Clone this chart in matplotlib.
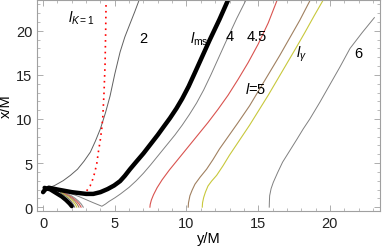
import matplotlib
matplotlib.use('Agg')
import matplotlib.pyplot as plt
from matplotlib.ticker import MultipleLocator

plt.rcParams['font.family'] = ['Liberation Sans', 'DejaVu Sans']
plt.rcParams['mathtext.fontset'] = 'custom'
plt.rcParams['mathtext.rm'] = 'Liberation Sans'
plt.rcParams['mathtext.it'] = 'Liberation Sans:italic'

# trajectories: horizontal = y/M, vertical = x/M
kerr_y = [3.04, 3.15, 3.28, 3.45, 3.6, 3.75, 3.85, 3.98, 4.09, 4.16, 4.25, 4.32, 4.36, 4.39, 4.42]
kerr_x = [1.85, 2.1, 2.4, 3.1, 3.9, 5.0, 6.2, 7.5, 8.9, 10.1, 13.0, 16.1, 19.5, 22.9, 23.5]

l2_y = [0.4, 0.8, 1.4, 1.9, 2.4, 2.85, 3.3, 3.65, 4.0, 4.35, 4.67, 5.0, 5.37, 5.7, 6.06, 6.4, 6.7]
l2_x = [2.2, 2.45, 3.0, 3.6, 4.3, 5.2, 6.25, 7.5, 8.9, 10.7, 12.6, 15.1, 17.6, 19.3, 20.8, 22.2, 23.5]

lms_y = [0.0, 0.15, 0.4, 1.0, 2.0, 3.0, 3.5, 4.0, 4.5, 4.95, 5.37, 5.7, 6.06, 6.5, 7.0, 7.5,
         8.0, 8.4, 8.85, 9.3, 9.7, 10.15, 10.6, 11.1, 11.6, 12.3, 12.9]
lms_x = [1.7, 2.0, 2.2, 2.0, 1.7, 1.5, 1.5, 1.7, 2.05, 2.45, 2.95, 3.55, 4.3, 5.15, 6.1, 7.15,
         8.2, 9.1, 10.1, 11.2, 12.3, 13.7, 15.3, 17.1, 18.9, 21.3, 23.5]
lms_in_y = [0.1, 0.5, 0.9, 1.3, 1.6, 1.85, 2.0]
lms_in_x = [2.2, 2.0, 1.6, 1.2, 0.8, 0.4, 0.1]

l4_y = [0.5, 1.5, 2.5, 3.5, 4.1, 4.35, 4.6, 5.0, 5.4, 6.0, 6.5, 7.0, 7.5, 8.0, 8.6, 9.2,
        9.7, 10.2, 10.7, 11.2, 11.7, 12.2, 12.7, 13.5, 14.15]
l4_x = [2.2, 1.8, 1.2, 0.5, 0.1, 0.35, 0.65, 1.05, 1.5, 2.25, 3.0, 3.85, 4.8, 5.8, 7.0, 8.2,
        9.3, 10.5, 11.8, 13.3, 15.0, 16.8, 18.6, 21.4, 23.5]

l45_y = [7.45, 7.47, 7.55, 7.7, 7.95, 8.3, 8.8, 9.4, 10.1, 10.8, 11.5, 12.2, 12.9, 13.6,
         14.3, 15.0, 15.7, 16.3]
l45_x = [0.0, 0.3, 0.8, 1.4, 2.2, 3.1, 4.2, 5.4, 6.8, 8.2, 9.6, 11.1, 12.7, 14.5,
         16.4, 18.5, 20.9, 23.4]

l5_y = [10.12, 10.14, 10.24, 10.4, 10.59, 10.95, 11.4, 11.85, 12.3, 12.95, 13.6, 14.4,
        15.1, 15.8, 16.5, 17.2, 17.9, 18.6]
l5_x = [0.0, 0.5, 1.3, 1.95, 2.6, 3.4, 4.3, 5.4, 6.6, 8.1, 9.6, 11.5, 13.4, 15.3, 17.2,
        19.2, 21.2, 23.4]

lg_y = [11.1, 11.12, 11.2, 11.32, 11.5, 11.75, 12.1, 12.55, 13.0, 13.7, 14.4, 15.05,
        15.7, 16.35, 17.0, 17.65, 18.25, 18.9, 19.5]
lg_x = [0.0, 0.5, 1.1, 1.7, 2.4, 2.95, 3.6, 4.7, 5.9, 7.6, 9.3, 11.0, 12.7, 14.5, 16.3,
        18.1, 19.8, 21.7, 23.4]

l6_y = [15.77, 15.78, 15.8, 15.9, 16.05, 16.35, 16.7, 17.2, 17.7, 18.15, 18.6, 19.3,
        20.0, 20.7, 21.4, 22.25, 23.1]
l6_x = [0.0, 0.6, 1.3, 2.1, 2.8, 3.9, 5.1, 6.4, 7.7, 8.9, 10.0, 11.9, 13.9, 15.9, 18.0,
        19.8, 21.5]

# inner branches falling to the centre
inner_ends = [2.2, 2.35, 2.5, 2.65, 2.8]
inner_cols = ['#707070', '#c8c83c', '#a08060', '#d9534f', '#909090']

fig = plt.figure(figsize=(3.82, 2.51), dpi=100)
ax = fig.add_axes([0.097, 0.155, 0.898, 0.841])

for e, c in zip(inner_ends, inner_cols):
    ys = [0.4, 0.7, 0.5 + 0.3 * e, 0.55 * e, 0.7 * e, 0.8 * e, 0.88 * e, 0.95 * e, e]
    xs = [2.15, 2.1, 1.9, 1.65, 1.3, 1.0, 0.7, 0.35, 0.0]
    ax.plot(ys, xs, color=c, lw=0.8)

ax.plot(l2_y, l2_x, color='#606060', lw=0.7)
ax.plot(l4_y, l4_x, color='#808080', lw=0.7)
ax.plot(l45_y, l45_x, color='#d9534f', lw=0.8)
ax.plot(l5_y, l5_x, color='#a08060', lw=0.8)
ax.plot(lg_y, lg_x, color='#c8c83c', lw=0.8)
ax.plot(l6_y, l6_x, color='#808080', lw=0.7)
ax.plot(kerr_y, kerr_x, color='red', lw=1.2, ls=(0, (1, 2.5)))
ax.plot(lms_y, lms_x, color='black', lw=3.2, solid_capstyle='round')
ax.plot(lms_in_y, lms_in_x, color='black', lw=3.0, solid_capstyle='round')

ax.set_xlim(-0.42, 23.5)
ax.set_ylim(-0.45, 23.5)
ax.xaxis.set_major_locator(MultipleLocator(5))
ax.xaxis.set_minor_locator(MultipleLocator(1))
ax.yaxis.set_major_locator(MultipleLocator(5))
ax.yaxis.set_minor_locator(MultipleLocator(1))
ax.tick_params(which='both', direction='in', top=True, right=True,
               color='#a0a0a0', labelsize=10.5, labelcolor='#222222')
ax.tick_params(which='major', length=4, width=0.6)
ax.tick_params(which='minor', length=2, width=0.5)
for s in ax.spines.values():
    s.set_color('#a0a0a0')
    s.set_linewidth(0.8)

ax.set_xlabel('y/M', fontsize=10.5, labelpad=1)
ax.set_ylabel('x/M', fontsize=10.5, labelpad=2)

fs = 10.5
ax.text(2.65, 21.5, r'$l_{K=1}$', fontsize=fs, ha='center', va='center')
ax.text(7.0, 19.2, '2', fontsize=fs, ha='center', va='center')
ax.text(10.9, 19.1, r'$l_{\rm ms}$', fontsize=fs, ha='center', va='center')
ax.text(13.0, 19.4, '4', fontsize=fs, ha='center', va='center')
ax.text(14.9, 19.4, '4.5', fontsize=fs, ha='center', va='center')
ax.text(14.8, 13.5, r'$l$=5', fontsize=fs, ha='center', va='center')
ax.text(18.0, 17.5, r'$l_\gamma$', fontsize=fs, ha='center', va='center')
ax.text(22.0, 17.5, '6', fontsize=fs, ha='center', va='center')

fig.savefig('out.png', dpi=100, facecolor='white')
